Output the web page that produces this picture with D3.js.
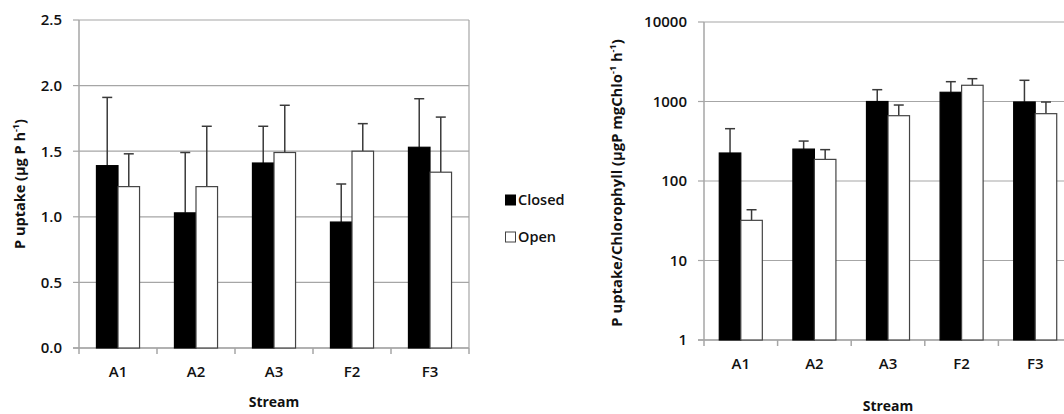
<!DOCTYPE html>
<html>
<head>
<meta charset="utf-8">
<script src="https://cdn.jsdelivr.net/npm/d3@7"></script>
<style>
  body { margin: 0; background: #fff; }
  svg text { font-family: "Open Sans", sans-serif; fill: #111; }
</style>
</head>
<body>
<div class="canvas"></div>
<script>
const streams = ['A1', 'A2', 'A3', 'F2', 'F3'];
const series = ['Closed', 'Open'];

// left panel: P uptake (ug P h-1)
const uptakeClosed = [1.39, 1.03, 1.41, 0.96, 1.53];
const uptakeClosedErr = [1.91, 1.49, 1.69, 1.25, 1.90];
const uptakeOpen = [1.23, 1.23, 1.49, 1.50, 1.34];
const uptakeOpenErr = [1.48, 1.69, 1.85, 1.71, 1.76];
const uptakeTicks = [0, 0.5, 1.0, 1.5, 2.0, 2.5];

// right panel: P uptake / chlorophyll (log)
const chloClosed = [225, 252, 1000, 1306, 986];
const chloClosedErr = [455, 318, 1408, 1775, 1848];
const chloOpen = [32, 187, 663, 1600, 703];
const chloOpenErr = [43.5, 248, 903, 1936, 985];
const chloTicks = [1, 10, 100, 1000, 10000];

const colours = { Closed: '#000', Open: '#fff' };
const gridColour = '#a6a6a6';

const svg = d3.select('.canvas')
  .append('svg')
  .attr('width', 1064)
  .attr('height', 414);

function rows(vals, errs, openVals, openErrs) {
  return streams.map((s, i) => ({
    stream: s,
    bars: [
      { key: 'Closed', value: vals[i], err: errs[i] },
      { key: 'Open', value: openVals[i], err: openErrs[i] }
    ]
  }));
}

function drawPanel(opts) {
  const g = svg.append('g');
  const x0 = d3.scaleBand().domain(streams).range([opts.left, opts.right]).padding(0);
  const x1 = d3.scaleBand().domain(series).range([0, x0.bandwidth()])
    .paddingInner(0).paddingOuter(opts.outer);
  const y = opts.y;
  const base = y.range()[0];

  // gridlines
  g.selectAll('.grid')
    .data(opts.ticks)
    .enter().append('line')
    .attr('x1', opts.left).attr('x2', opts.right)
    .attr('y1', d => y(d)).attr('y2', d => y(d))
    .attr('stroke', gridColour).attr('stroke-width', 1.2);

  // plot frame
  g.append('line').attr('x1', opts.left).attr('x2', opts.left)
    .attr('y1', y.range()[1]).attr('y2', base)
    .attr('stroke', gridColour).attr('stroke-width', 1.5);
  g.append('line').attr('x1', opts.right).attr('x2', opts.right)
    .attr('y1', y.range()[1]).attr('y2', base)
    .attr('stroke', gridColour).attr('stroke-width', 1.2);
  g.append('line').attr('x1', opts.left - 6).attr('x2', opts.right)
    .attr('y1', base).attr('y2', base)
    .attr('stroke', gridColour).attr('stroke-width', 1.5);

  // y tick marks + labels
  g.selectAll('.ytick')
    .data(opts.ticks)
    .enter().append('line')
    .attr('x1', opts.left - 6).attr('x2', opts.left)
    .attr('y1', d => y(d)).attr('y2', d => y(d))
    .attr('stroke', gridColour).attr('stroke-width', 1.2);
  g.selectAll('.ylab')
    .data(opts.ticks)
    .enter().append('text')
    .attr('x', opts.left - 17)
    .attr('y', d => y(d))
    .attr('dy', '0.36em')
    .attr('text-anchor', 'end')
    .style('font-size', '15px')
    .style('font-weight', 600)
    .text(opts.fmt);

  // x category boundary ticks
  const bounds = streams.map(s => x0(s)).concat([opts.right]);
  g.selectAll('.xtick')
    .data(bounds)
    .enter().append('line')
    .attr('x1', d => d).attr('x2', d => d)
    .attr('y1', base).attr('y2', base + 6)
    .attr('stroke', gridColour).attr('stroke-width', 1.5);

  g.selectAll('.xlab')
    .data(streams)
    .enter().append('text')
    .attr('x', d => x0(d) + x0.bandwidth() / 2)
    .attr('y', base + 24)
    .attr('dy', '0.36em')
    .attr('text-anchor', 'middle')
    .style('font-size', '15px')
    .style('font-weight', 600)
    .text(d => d);

  // bars
  const groups = g.selectAll('.grp')
    .data(opts.data)
    .enter().append('g')
    .attr('transform', d => `translate(${x0(d.stream)},0)`);

  const bar = groups.selectAll('g')
    .data(d => d.bars)
    .enter().append('g');

  // error bars (upper only)
  bar.append('line')
    .attr('x1', d => x1(d.key) + x1.bandwidth() / 2)
    .attr('x2', d => x1(d.key) + x1.bandwidth() / 2)
    .attr('y1', d => y(d.value)).attr('y2', d => y(d.err))
    .attr('stroke', '#3a3a3a').attr('stroke-width', 1.5);
  bar.append('line')
    .attr('x1', d => x1(d.key) + x1.bandwidth() / 2 - 5)
    .attr('x2', d => x1(d.key) + x1.bandwidth() / 2 + 5)
    .attr('y1', d => y(d.err)).attr('y2', d => y(d.err))
    .attr('stroke', '#3a3a3a').attr('stroke-width', 1.5);

  bar.append('rect')
    .attr('x', d => x1(d.key))
    .attr('width', x1.bandwidth())
    .attr('y', d => y(d.value))
    .attr('height', d => base - y(d.value))
    .attr('fill', d => colours[d.key])
    .attr('stroke', d => d.key === 'Open' ? '#444' : '#000')
    .attr('stroke-width', 1.2);

  // axis titles
  g.append('text')
    .attr('x', (opts.left + opts.right) / 2)
    .attr('y', opts.xTitleY)
    .attr('text-anchor', 'middle')
    .style('font-size', '14px')
    .style('font-weight', 'bold')
    .text('Stream');

  const yt = g.append('text')
    .attr('transform', `translate(${opts.yTitleX},${opts.yTitleY}) rotate(-90)`)
    .attr('text-anchor', 'middle')
    .style('font-size', opts.yTitleSize)
    .style('font-weight', 'bold');
  opts.yTitle.forEach(part => {
    const t = yt.append('tspan').text(part.t);
    if (part.sup) t.attr('baseline-shift', 'super').style('font-size', '9px');
  });
}

drawPanel({
  left: 79, right: 469, outer: 0.81,
  y: d3.scaleLinear().domain([0, 2.5]).range([348, 20]),
  ticks: uptakeTicks,
  fmt: d3.format('.1f'),
  data: rows(uptakeClosed, uptakeClosedErr, uptakeOpen, uptakeOpenErr),
  xTitleY: 407,
  yTitleX: 25, yTitleY: 184, yTitleSize: '14.5px',
  yTitle: [{ t: 'P uptake (µg P h' }, { t: '-1', sup: true }, { t: ')' }]
});

drawPanel({
  left: 704, right: 1072, outer: 0.71,
  y: d3.scaleLog().domain([1, 10000]).range([340, 22]),
  ticks: chloTicks,
  fmt: d => d3.format('d')(d),
  data: rows(chloClosed, chloClosedErr, chloOpen, chloOpenErr),
  xTitleY: 411,
  yTitleX: 622, yTitleY: 183, yTitleSize: '14.8px',
  yTitle: [{ t: 'P uptake/Chlorophyll (µgP mgChlo' }, { t: '-1', sup: true },
           { t: ' h' }, { t: '-1', sup: true }, { t: ')' }]
});

// legend
const legend = svg.append('g').attr('transform', 'translate(505,0)');
series.forEach((s, i) => {
  const yy = 195 + i * 37;
  legend.append('rect')
    .attr('x', 0.5).attr('y', yy)
    .attr('width', 10).attr('height', 10)
    .attr('fill', colours[s])
    .attr('stroke', s === 'Open' ? '#444' : '#000');
  legend.append('text')
    .attr('x', 13).attr('y', yy + 5)
    .attr('dy', '0.36em')
    .style('font-size', '14.5px')
    .style('font-weight', 600)
    .text(s);
});
</script>
</body>
</html>
